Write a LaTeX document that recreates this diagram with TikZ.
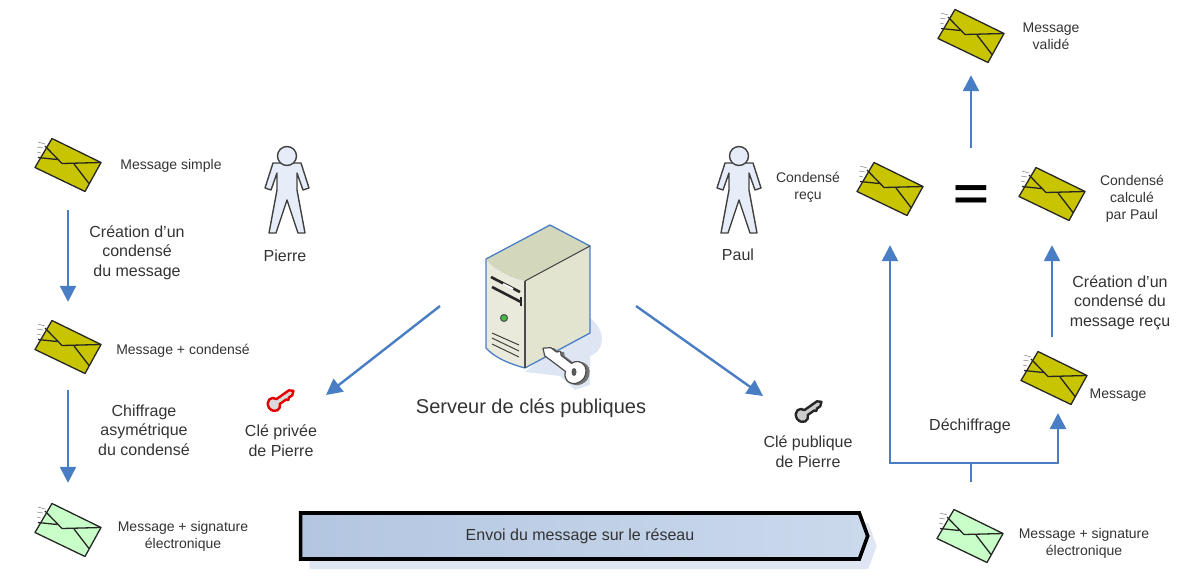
\documentclass[tikz,border=0pt]{standalone}
\usepackage{fontspec}
\setmainfont{Liberation Sans}
\usetikzlibrary{shapes,shapes.symbols,arrows.meta,positioning,shadows}

\definecolor{flowblue}{HTML}{4A7EC4}
\definecolor{mailolive}{HTML}{C8C400}
\definecolor{mailgreen}{HTML}{C8FFC8}
\definecolor{inkgrey}{HTML}{333333}
\definecolor{bodyblue}{HTML}{E6ECF8}
\definecolor{paleblue}{HTML}{DFE6F3}
\definecolor{sendleft}{HTML}{B3C6E1}
\definecolor{sendright}{HTML}{CBD9EC}
\definecolor{cabtop}{HTML}{D3D7BC}
\definecolor{cabfront}{HTML}{E9EADB}
\definecolor{cabside}{HTML}{E2E4D0}

\tikzset{
  flow/.style={draw=flowblue, line width=2.4pt, -{Triangle[width=16pt,length=16pt]}},
  stem/.style={draw=flowblue, line width=2.4pt},
  big/.style={font=\fontsize{16}{19.5}\selectfont, text=inkgrey, align=center, inner sep=0pt},
  tiny/.style={font=\fontsize{14}{17}\selectfont, text=inkgrey, align=center, inner sep=0pt},
  pics/envelope/.style={code={
    \node[inner sep=0pt, minimum width=66pt, minimum height=52pt] (-box) at (0,0) {};
    \draw[gray, line width=.5pt] (-30,-23) -- (-23,-21) (-31,-18) -- (-25,-17) (-31,-13) -- (-27,-12);
    \draw[black!85, line width=1.3pt, line join=round, fill=#1]
      (-16,-26.5) -- (33,-2.5) -- (17,26.5) -- (-33,2.5) -- cycle;
    \draw[black!85, line width=1.3pt, line join=round]
      (-23,-19) -- (-6,-1.5) -- (33,-2.5) (-30,-7.5) -- (-11,-5.5) (6,-1) -- (21,18.5);
  }},
  pics/person/.style={code={
    \draw[black!75, line width=1.4pt, fill=bodyblue, line join=round]
      (-14,-32) -- (14,-32) -- (22,-7) -- (16,-5) -- (10,-22) -- (10,-5) -- (18,38) -- (11,38)
      -- (0,5) -- (-11,38) -- (-18,38) -- (-10,-5) -- (-10,-22) -- (-16,-5) -- (-22,-7) -- cycle;
    \draw[black!75, line width=1.4pt, fill=bodyblue] (0,-39) circle (9.5);
  }},
  pics/key/.style={code={
    \draw[pic actions, line join=round]
      (3,-3.5) -- (21,-3.5) -- (25,0) -- (21,3.5) -- (16,3.5) -- (14,5.5) -- (12,3.5) -- (3,3.5)
      .. controls (1,10) and (-9,10) .. (-10,0) .. controls (-9,-10) and (1,-10) .. (3,-3.5) -- cycle;
  }}
}

\begin{document}
\begin{tikzpicture}[x=1pt,y=-1pt]
  \useasboundingbox (0,0) rectangle (1200,586);

  % left column
  \pic (simple) at (68,165) {envelope=mailolive};
  \pic (digest) at (68,347) {envelope=mailolive};
  \pic (signed) at (68,530) {envelope=mailgreen};
  \node[tiny] (simpletag) at (171,165.5) {Message simple};
  \node[tiny] (digesttag) at (183,351) {Message + condensé};
  \node[tiny] (signedtag) at (183,536.5) {Message + signature\\électronique};
  \node[big] (hashtag) at (137,252.5) {Création d’un\\condensé\\du message};
  \node[big] (ciphertag) at (144,430) {Chiffrage\\asymétrique\\du condensé};
  \draw[flow, shorten <=19pt, shorten >=19pt] (simple-box.south) -- (digest-box.north);
  \draw[flow, shorten <=17pt, shorten >=21pt] (digest-box.south) -- (signed-box.north);

  \pic at (287,195) {person};
  \node[big] (pierre) at (285,256) {Pierre};
  \pic at (739,195) {person};
  \node[big] (paul) at (738,255) {Paul};

  % server
  \fill[paleblue] (590,318) .. controls (606,330) and (606,350) .. (590,356)
    -- (590,385) -- (575,390) -- (560,376) -- (525,372) -- cycle;
  \fill[cabtop] (486,259) -- (550,225) -- (590,246) -- (525,281) .. controls (510,277) and (495,270) .. cycle;
  \fill[cabfront] (486,259) .. controls (495,270) and (510,277) .. (525,281) -- (525,368)
    .. controls (510,364) and (495,358) .. (486,348) -- cycle;
  \fill[cabside] (525,281) -- (590,246) -- (590,333) -- (525,368) -- cycle;
  \draw[flowblue, line width=1.3pt, line join=round]
    (525,368) .. controls (510,364) and (495,358) .. (486,348) -- (486,259) -- (550,225) -- (590,246) -- (590,333) -- (525,368);
  \draw[black!75, line width=1pt] (590,246) -- (525,281);
  \draw[black!70, line width=1.4pt] (525,281) -- (525,368);
  \draw[gray!70, dotted, line width=.6pt] (486,259) .. controls (495,270) and (510,277) .. (525,281);
  \draw[black!85, line width=2.6pt] (491,277) -- (520,292) (492,287) -- (521,302);
  \draw[black!85, line width=1.2pt] (521,297) -- (521,306);
  \draw[white, line width=1.8pt] (503,284) -- (513,289);
  \draw[black!70, fill=green!45!gray, line width=1pt] (504,318) circle (3.5);
  \draw[black!75, line width=1pt] (492,333) -- (519,345) (492,338) -- (519,351) (492,344) -- (519,357);
  \pic[draw=black!55, fill=black!55, line width=1.2pt, xshift=3pt, yshift=-1pt, scale=1.45, rotate=143] at (572,370) {key};
  \pic[draw=black!70, fill=white, line width=1.2pt, scale=1.45, rotate=143] at (572,370) {key};
  \fill[black!65] (574,372) ellipse (2.5 and 4);
  \node[inner sep=0pt, font=\fontsize{20}{24}\selectfont, text=inkgrey] (server) at (531,408) {Serveur de clés publiques};

  % keys
  \pic[draw=red!90!black, fill=black!15, line width=2.4pt, scale=.85, rotate=35] at (276,403) {key};
  \node[big] (privatetag) at (281,440.5) {Clé privée\\de Pierre};
  \pic[draw=black!85, fill=black!20, line width=2.4pt, scale=.85, rotate=35] at (804,414) {key};
  \node[big] (publictag) at (808,451.5) {Clé publique\\de Pierre};
  \coordinate (serverleft) at (440,306);
  \coordinate (privatein) at (326,395);
  \coordinate (serverright) at (636,306);
  \coordinate (publicin) at (763,396);
  \draw[flow] (serverleft) -- (privatein);
  \draw[flow] (serverright) -- (publicin);

  % network
  \node[signal, signal to=east, signal pointer angle=140, draw=black, line width=3.6pt,
    left color=sendleft, right color=sendright,
    minimum width=567pt, minimum height=46pt, inner sep=0pt,
    drop shadow={fill=paleblue, opacity=1, shadow xshift=9pt, shadow yshift=-10pt},
    font=\fontsize{16}{19}\selectfont, text=inkgrey] (network) at (580,536) {Envoi du message sur le réseau};

  % right column
  \pic (valid) at (971,36) {envelope=mailolive};
  \pic (received) at (890,189) {envelope=mailolive};
  \pic (computed) at (1052,194) {envelope=mailolive};
  \pic (plain) at (1054,378) {envelope=mailolive};
  \pic (arrived) at (970,536) {envelope=mailgreen};
  \node[inner sep=0pt, minimum height=30pt, font=\fontsize{46}{46}\bfseries\selectfont] (equal) at (971,198) {\scalebox{1.33}[1]{=}};
  \node[tiny] (validtag) at (1051,36) {Message\\validé};
  \node[tiny] (receivedtag) at (808,187) {Condensé\\reçu};
  \node[tiny] (computedtag) at (1132,199) {Condensé\\calculé\\par Paul};
  \node[tiny] (plaintag) at (1118,395) {Message};
  \node[tiny] (arrivedtag) at (1084,543) {Message + signature\\électronique};
  \node[big] (rehashtag) at (1120,302.5) {Création d’un\\condensé du\\message reçu};
  \node[big] (decipher) at (970,426) {Déchiffrage};

  \coordinate (fork) at (971,463);
  \coordinate (plainin) at (1058,413);
  \draw[stem, shorten <=28pt] (arrived-box.north -| fork) -- (fork);
  \draw[flow, shorten >=30pt] (fork) -| (received-box.south);
  \draw[flow] (fork) -| (plainin);
  \draw[flow, shorten <=15pt, shorten >=25pt] (computed-box.south |- plain-box.north) -- (computed-box.south);
  \draw[flow, shorten <=35pt, shorten >=13pt] (equal.north) -- (valid-box.south);
\end{tikzpicture}
\end{document}
